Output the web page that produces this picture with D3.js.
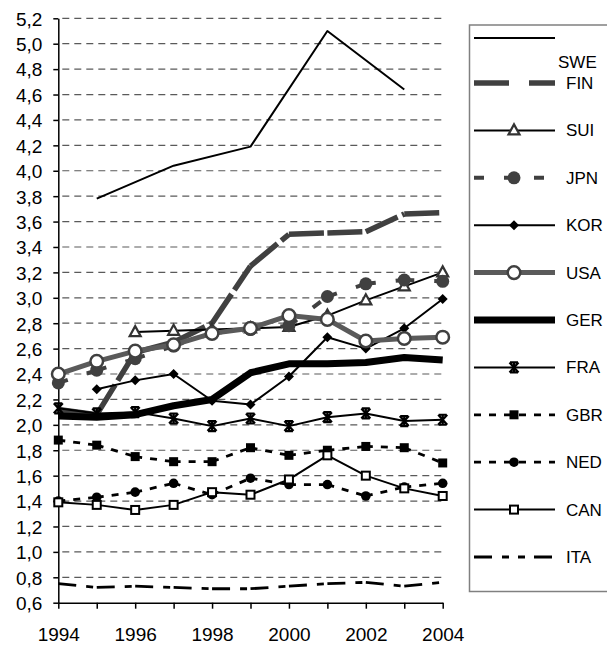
<!DOCTYPE html>
<html><head><meta charset="utf-8">
<script src="https://cdn.jsdelivr.net/npm/d3@7"></script>
<style>
body{margin:0;background:#fff}
svg{display:block}
text{font-family:"Liberation Sans",Arial,Helvetica,sans-serif;fill:#000}
</style>
</head><body>
<svg id="chart" width="607" height="646"></svg>
<script>
// ---------------- DATA ----------------
const years = [1994,1995,1996,1997,1998,1999,2000,2001,2002,2003,2004];
const yTicks = [0.6,0.8,1.0,1.2,1.4,1.6,1.8,2.0,2.2,2.4,2.6,2.8,3.0,3.2,3.4,3.6,3.8,4.0,4.2,4.4,4.6,4.8,5.0,5.2];
const xTickLabels = [1994,1996,1998,2000,2002,2004];
const countries = ["SWE","FIN","SUI","JPN","KOR","USA","GER","FRA","GBR","NED","CAN","ITA"];

const SWE = [null,3.78,null,4.04,null,4.19,null,5.10,null,4.64,null];
const FIN = [2.12,2.08,2.57,2.65,2.80,3.25,3.50,3.51,3.52,3.66,3.67];
const SUI = [null,null,2.73,2.74,2.75,2.76,2.77,2.86,2.98,3.09,3.20];
const JPN = [2.33,2.43,2.52,2.62,2.72,2.75,2.78,3.01,3.11,3.14,3.13];
const KOR = [null,2.28,2.35,2.40,2.19,2.16,2.38,2.69,2.60,2.76,2.99];
const USA = [2.40,2.50,2.58,2.63,2.72,2.76,2.86,2.83,2.66,2.68,2.69];
const GER = [2.07,2.06,2.08,2.15,2.20,2.41,2.48,2.48,2.49,2.53,2.51];
const FRA = [2.13,2.09,2.10,2.05,1.99,2.05,1.99,2.06,2.09,2.03,2.04];
const GBR = [1.88,1.84,1.75,1.71,1.71,1.82,1.76,1.80,1.83,1.82,1.70];
const NED = [1.40,1.43,1.47,1.54,1.45,1.58,1.53,1.53,1.44,1.51,1.54];
const CAN = [1.39,1.37,1.33,1.37,1.47,1.45,1.57,1.76,1.60,1.50,1.44];
const ITA = [0.75,0.72,0.73,0.72,0.71,0.71,0.73,0.75,0.76,0.73,0.76];

const seriesValues = {SWE,FIN,SUI,JPN,KOR,USA,GER,FRA,GBR,NED,CAN,ITA};

// ---------------- STYLES ----------------
const styles = {
  SWE:{stroke:"#000",width:2,dash:null,marker:null},
  FIN:{stroke:"#404040",width:5.5,dash:"35,5",legendDash:"35,20",marker:null},
  SUI:{stroke:"#000",width:2,dash:null,marker:"triangle"},
  JPN:{stroke:"#404040",width:4,dash:"10,20",legendDash:"10,20",marker:"circleDark"},
  KOR:{stroke:"#000",width:2,dash:null,marker:"diamond"},
  USA:{stroke:"#5a5a5a",width:5,dash:null,marker:"circleOpen"},
  GER:{stroke:"#000",width:7,dash:null,marker:null},
  FRA:{stroke:"#000",width:2,dash:null,marker:"star"},
  GBR:{stroke:"#000",width:2.8,dash:"7,8",legendDash:"7,8",marker:"squareFilled"},
  NED:{stroke:"#000",width:2.8,dash:"7,8",legendDash:"7,8",marker:"circleFilled"},
  CAN:{stroke:"#000",width:2,dash:null,marker:"squareOpen"},
  ITA:{stroke:"#000",width:2.8,dash:"18,10,7,9,7,9",legendDash:"18,10,7,9,7,9",marker:null}
};

// ---------------- CHART ----------------
const svg = d3.select("#chart");
const x = d3.scaleLinear().domain([1994,2004]).range([58.3,442.7]);
const y = d3.scaleLinear().domain([0.6,5.2]).range([602.7,18.3]);
const commaFmt = d3.formatLocale({decimal:",",thousands:".",grouping:[3],currency:["",""]}).format(".1f");

// gridlines
svg.append("g").selectAll("line").data(yTicks.filter(v => v > 0.6)).join("line")
  .attr("x1", x(1994)+4).attr("x2", x(2004))
  .attr("y1", d => y(d)).attr("y2", d => y(d))
  .attr("stroke", "#5a5a5a").attr("stroke-width", 1.2)
  .attr("stroke-dasharray", "7,5");

// y axis
const yAxis = svg.append("g").attr("transform", `translate(${x(1994)},0)`)
  .call(d3.axisLeft(y).tickValues(yTicks).tickSize(5).tickSizeOuter(0).tickPadding(11).tickFormat(commaFmt));
yAxis.selectAll("text").style("font-size","19px").attr("dy","0.36em");

// x axis
const xAxis = svg.append("g").attr("transform", `translate(0,${y(0.6)})`)
  .call(d3.axisBottom(x).tickValues(years).tickSize(6).tickSizeOuter(0).tickPadding(0)
    .tickFormat(d => xTickLabels.includes(d) ? String(d) : ""));
xAxis.selectAll("text").style("font-size","19px").attr("y", 38).attr("dy", 0);

svg.selectAll(".domain, .tick line").attr("stroke","#000").attr("stroke-width",1.5);

// markers
function drawMarker(g, type, cx, cy) {
  if (!type) return;
  const m = g.append("g").attr("transform", `translate(${cx},${cy})`);
  switch (type) {
    case "triangle":
      m.append("path").attr("d","M0,-6L5.5,4L-5.5,4Z").attr("fill","#fff").attr("stroke","#333").attr("stroke-width",2.2); break;
    case "circleDark":
      m.append("circle").attr("r",6.5).attr("fill","#404040"); break;
    case "diamond":
      m.append("path").attr("d","M0,-5L5,0L0,5L-5,0Z").attr("fill","#000"); break;
    case "circleOpen":
      m.append("circle").attr("r",6.3).attr("fill","#fff").attr("stroke","#404040").attr("stroke-width",2.5); break;
    case "star":
      m.append("path").attr("d","M-4.5,-5L4.5,5M-4.5,5L4.5,-5M0,-5.5L0,5.5M-4,-5L4,-5M-4,5L4,5")
        .attr("stroke","#000").attr("stroke-width",2.2).attr("fill","none"); break;
    case "squareFilled":
      m.append("rect").attr("x",-4.5).attr("y",-4.5).attr("width",9).attr("height",9).attr("fill","#000"); break;
    case "circleFilled":
      m.append("circle").attr("r",4.8).attr("fill","#000"); break;
    case "squareOpen":
      m.append("rect").attr("x",-4).attr("y",-4).attr("width",8).attr("height",8).attr("fill","#fff").attr("stroke","#000").attr("stroke-width",2); break;
  }
}

const line = d3.line().x(d => x(d.year)).y(d => y(d.value));
const plot = svg.append("g");

countries.forEach(c => {
  const st = styles[c];
  const pts = years.map((yr,i) => ({year:yr, value:seriesValues[c][i]})).filter(d => d.value != null);
  const g = plot.append("g").attr("class","series-"+c);
  if (st.dash) {
    // dash pattern restarts at every data point
    for (let i = 0; i < pts.length-1; i++) {
      g.append("path").attr("d", line([pts[i],pts[i+1]]))
        .attr("fill","none").attr("stroke",st.stroke).attr("stroke-width",st.width)
        .attr("stroke-dasharray",st.dash).attr("stroke-linejoin","round");
    }
  } else {
    g.append("path").attr("d", line(pts))
      .attr("fill","none").attr("stroke",st.stroke).attr("stroke-width",st.width)
      .attr("stroke-linejoin","round");
  }
  pts.forEach(p => drawMarker(g, st.marker, x(p.year), y(p.value)));
});

// ---------------- LEGEND ----------------
const leg = svg.append("g");
leg.append("rect").attr("x",469.5).attr("y",25).attr("width",200).attr("height",566.5)
  .attr("fill","#fff").attr("stroke","#808080").attr("stroke-width",1.5);

countries.forEach((c,i) => {
  const st = styles[c];
  const ly = i === 0 ? 38 : 83 + (i-1)*47.4;
  const g = leg.append("g");
  g.append("line").attr("x1",474).attr("x2",555).attr("y1",ly).attr("y2",ly)
    .attr("stroke",st.stroke).attr("stroke-width",st.width)
    .attr("stroke-dasharray", st.legendDash || null);
  drawMarker(g, st.marker, 514, ly);
  const ty = i === 0 ? 62 : ly;
  g.append("text").attr("x", i === 0 ? 558 : 566).attr("y", ty + 6)
    .style("font-size","17px").text(c);
});
</script>
</body></html>
